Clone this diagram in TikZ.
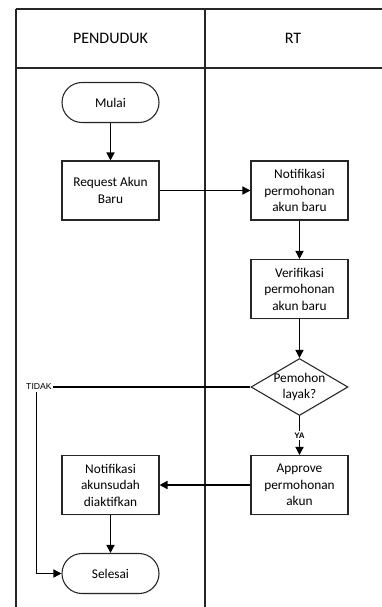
\documentclass[tikz,border=0pt]{standalone}
\usepackage{fontspec}
\setmainfont{Carlito}
\newfontfamily\labelfont{Liberation Sans}
\usetikzlibrary{arrows.meta,shapes.geometric,shadows}

\begin{document}
\begin{tikzpicture}[
  x=0.75pt, y=-0.75pt,
  font=\fontsize{10}{12.4}\selectfont,
  flow/.style={-{Triangle[length=6pt,width=6pt]}, line width=1.1pt, draw=black},
  link/.style={line width=0.9pt, draw=black},
  lane/.style={draw=black!85, line width=1.1pt},
  head/.style={font=\fontsize{12}{14}\selectfont},
  boxshadow/.style={drop shadow={shadow xshift=0.8pt, shadow yshift=-0.8pt, fill=blue!30!gray!25, opacity=0.3}},
  proc/.style={rectangle, draw=black!85, line width=0.8pt, fill=white, boxshadow, align=center,
    minimum width=72.75pt, minimum height=44.25pt, inner sep=1pt},
  term/.style={rectangle, rounded corners=15pt, draw=black!85, line width=0.8pt, fill=white, boxshadow,
    minimum width=72.75pt, minimum height=30pt},
  decision/.style={diamond, aspect=1.7, draw=black!85, line width=0.8pt, fill=white, boxshadow, align=center,
    minimum width=72.75pt, minimum height=42.75pt, inner sep=-1pt},
  tag/.style={font=\labelfont\fontsize{6.5}{7}\selectfont, inner sep=1pt}
]
\useasboundingbox (0,0) rectangle (382,607);

% Swimlane frame and headers.
\draw[lane] (16,9) -- (382,9);
\draw[lane] (16,68) -- (382,68);
\draw[lane] (16,9) -- (16,607);
\draw[lane] (205,9) -- (205,607);
\node[head] (penduduk) at (110.5,38) {PENDUDUK};
\node[head] (rt) at (293,38) {RT};

% Steps.
\node[term] (mulai) at (110.5,102.5) {Mulai};
\node[proc] (request) at (110.5,190.5) {Request Akun\\Baru};
\node[proc] (notif) at (299.5,190.5) {Notifikasi\\permohonan\\akun baru};
\node[proc] (verif) at (299.5,289) {Verifikasi\\permohonan\\akun baru};
\node[decision] (cek) at (299.5,387) {Pemohon\\layak?};
\node[proc] (approve) at (299.5,485) {Approve\\permohonan\\akun};
\node[proc] (aktif) at (110.5,485) {Notifikasi\\akunsudah\\diaktifkan};
\node[term] (selesai) at (110.5,573.5) {Selesai};
\node[tag] (tidak) at (39,387) {TIDAK};

% Flow.
\draw[flow] (mulai) -- (request);
\draw[flow] (request) -- (notif);
\draw[flow] (notif) -- (verif);
\draw[flow] (verif) -- (cek);
\draw[flow] (cek) -- node[tag, fill=white, font=\labelfont\bfseries\fontsize{6}{7}\selectfont] (ya) {YA} (approve);
\draw[flow] (approve) -- (aktif);
\draw[flow] (aktif) -- (selesai);
\draw[link] (cek.west) -- (tidak.east);
\draw[flow] ([xshift=-1.7pt]tidak.south) |- (selesai.west);

\end{tikzpicture}
\end{document}
